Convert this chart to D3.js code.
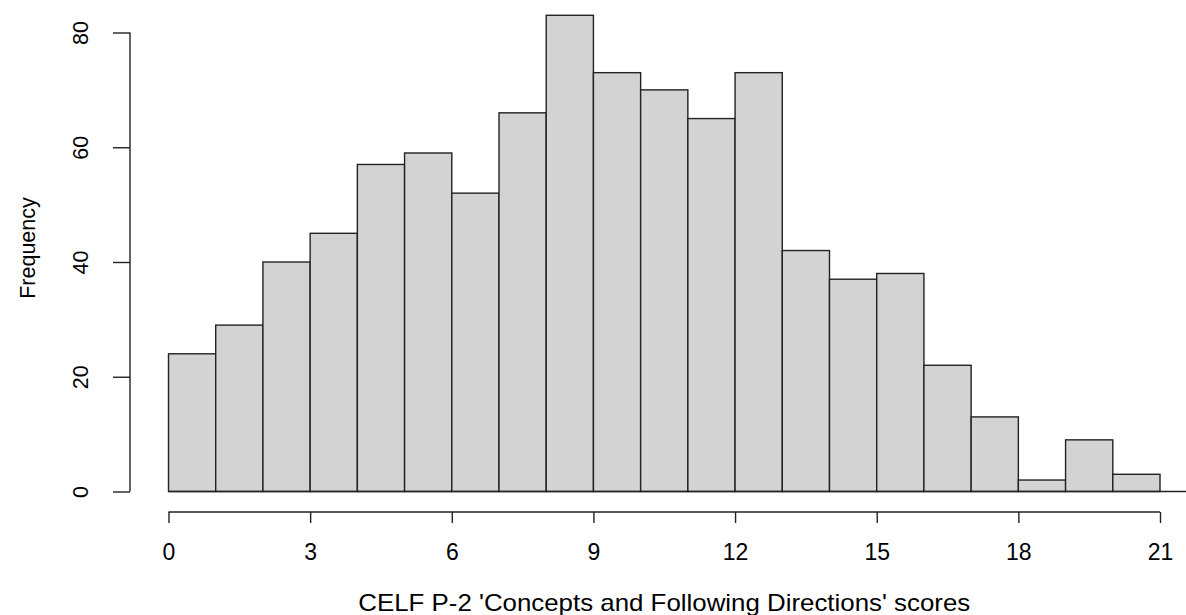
<!DOCTYPE html>
<html lang="en">
<head>
<meta charset="utf-8">
<title>CELF P-2 histogram</title>
<script src="https://d3js.org/d3.v7.min.js"></script>
<style>
  body { margin: 0; background: #fff; }
  text { font-family: "Liberation Sans", Arial, sans-serif; fill: #000; }
</style>
</head>
<body>
<script>
// bin edges 0..21, one count per unit-wide bin
var binStarts = [0, 1, 2, 3, 4, 5, 6, 7, 8, 9, 10, 11, 12, 13, 14, 15, 16, 17, 18, 19, 20];
var counts = [24, 29, 40, 45, 57, 59, 52, 66, 83, 73, 70, 65, 73, 42, 37, 38, 22, 13, 2, 9, 3];
var xTicks = [0, 3, 6, 9, 12, 15, 18, 21];
var yTicks = [0, 20, 40, 60, 80];
var xLabel = "CELF P-2 'Concepts and Following Directions' scores";
var yLabel = "Frequency";

var width = 1186, height = 615;

var x = d3.scaleLinear().domain([0, 21]).range([168.5, 1160]);
var y = d3.scaleLinear().domain([0, 80]).range([491.5, 32.5]);

var svg = d3.select("body").append("svg")
  .attr("width", width)
  .attr("height", height);

// bars
svg.append("g").selectAll("rect")
  .data(counts)
  .enter()
  .append("rect")
  .attr("x", function(d, i) { return x(binStarts[i]); })
  .attr("y", function(d) { return y(d); })
  .attr("width", function(d, i) { return x(binStarts[i] + 1) - x(binStarts[i]); })
  .attr("height", function(d) { return y(0) - y(d); })
  .attr("fill", "#d3d3d3")
  .attr("stroke", "#222")
  .attr("stroke-width", 1.4);

// baseline under the bars runs out to the edge
svg.append("line")
  .attr("x1", x(0)).attr("x2", width)
  .attr("y1", y(0)).attr("y2", y(0))
  .attr("stroke", "#222").attr("stroke-width", 1.4);

// x axis (R style: detached, ticks down)
var xAxis = svg.append("g")
  .attr("transform", "translate(0,512)")
  .call(d3.axisBottom(x).tickValues(xTicks).tickSize(11).tickSizeOuter(0));
xAxis.select(".domain").attr("d", "M" + x(0) + ",0H" + x(21)).attr("stroke", "#222").attr("stroke-width", 1.4);
xAxis.selectAll(".tick line").attr("stroke", "#222").attr("stroke-width", 1.4);
xAxis.selectAll("text").attr("font-size", 23).attr("font-family", null).attr("dy", null).attr("y", 48);

// y axis
var yAxis = svg.append("g")
  .attr("transform", "translate(130,0)")
  .call(d3.axisLeft(y).tickValues(yTicks).tickSize(17).tickSizeOuter(0));
yAxis.select(".domain").attr("d", "M0," + y(0) + "V" + y(80)).attr("stroke", "#222").attr("stroke-width", 1.4);
yAxis.selectAll(".tick line").attr("stroke", "#222").attr("stroke-width", 1.4);
yAxis.selectAll(".tick text")
  .attr("x", null).attr("dy", null)
  .attr("font-size", 21.5).attr("font-family", null)
  .attr("text-anchor", "middle")
  .attr("transform", "translate(-42,0) rotate(-90)");

// axis titles
svg.append("text")
  .attr("x", (x(0) + x(21)) / 2)
  .attr("y", 611)
  .attr("text-anchor", "middle")
  .attr("font-size", 24)
  .attr("textLength", 612)
  .attr("lengthAdjust", "spacingAndGlyphs")
  .text(xLabel);

svg.append("text")
  .attr("transform", "translate(35,248) rotate(-90)")
  .attr("text-anchor", "middle")
  .attr("font-size", 21.5)
  .text(yLabel);
</script>
</body>
</html>
